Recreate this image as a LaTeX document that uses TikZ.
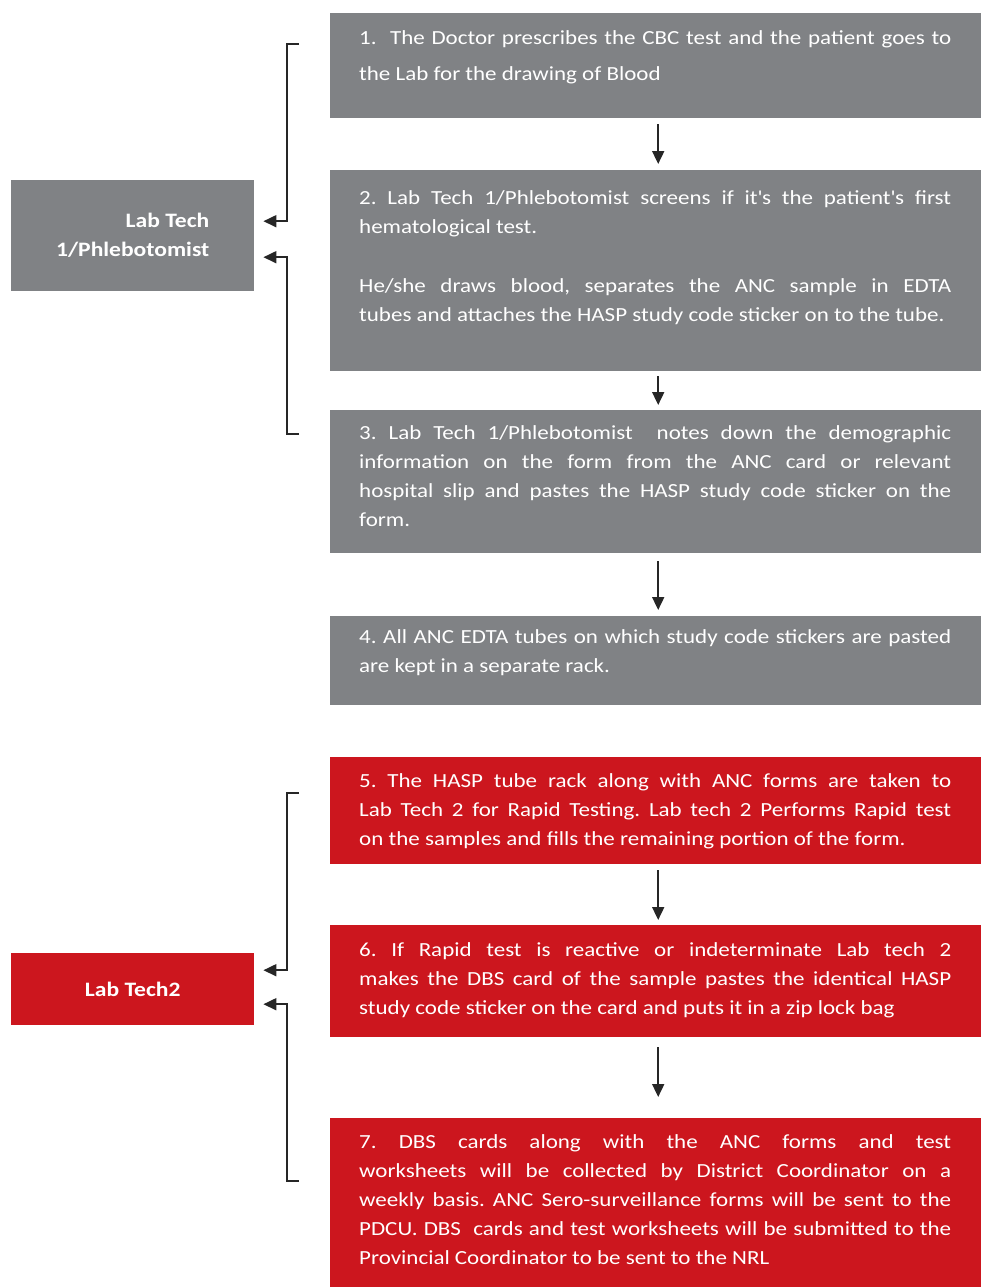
\documentclass[tikz,border=0pt]{standalone}
\usepackage{fontspec}
\setmainfont[FakeStretch=1.15]{Carlito}
\usetikzlibrary{positioning}
\usetikzlibrary{calc}
\usetikzlibrary{arrows.meta}

\definecolor{labgray}{RGB}{128,130,133}
\definecolor{labred}{RGB}{204,22,30}
\hyphenpenalty=10000
\exhyphenpenalty=10000
\frenchspacing

\begin{document}
\begin{tikzpicture}[x=1pt,y=-1pt,
      stepbox/.style={rectangle,inner sep=0pt,minimum width=651pt,anchor=north west},
      steptext/.style={inner sep=0pt,text width=592pt,align=justify,text=white,font=\fontsize{20}{29}\selectfont},
      rolebox/.style={rectangle,inner sep=0pt,minimum width=243pt,anchor=north west,text=white,font=\bfseries\fontsize{20.5}{29}\selectfont},
      flow/.style={-{Triangle[length=13pt,width=12pt]},line width=1.8pt,black!85}]
    \useasboundingbox (0,0) rectangle (981,1287);

    % Step boxes
    \node[stepbox,fill=labgray,minimum height=105pt] (step1) at (330,13)   {};
    \node[stepbox,fill=labgray,minimum height=201pt] (step2) at (330,170)  {};
    \node[stepbox,fill=labgray,minimum height=143pt] (step3) at (330,410)  {};
    \node[stepbox,fill=labgray,minimum height=89pt]  (step4) at (330,616)  {};
    \node[stepbox,fill=labred, minimum height=107pt] (step5) at (330,757)  {};
    \node[stepbox,fill=labred, minimum height=112pt] (step6) at (330,925)  {};
    \node[stepbox,fill=labred, minimum height=169pt] (step7) at (330,1118) {};

    % Step texts
    \node[steptext,font=\fontsize{20}{36}\selectfont,below right=17pt and 29pt of step1.north west] (text1)
      {1.\ \ The Doctor prescribes the CBC test and the patient goes to\linebreak the Lab for the drawing of Blood};
    \node[steptext,below right=20pt and 29pt of step2.north west] (text2)
      {2. Lab Tech 1/Phlebotomist screens if it\textquotesingle s the patient\textquotesingle s first\linebreak hematological test.\\[30pt]
       He/she draws blood, separates the ANC sample in EDTA\linebreak tubes and attaches the HASP study code sticker on to the tube.};
    \node[steptext,below right=15pt and 29pt of step3.north west] (text3)
      {3. Lab Tech 1/Phlebotomist\ \ notes down the demographic\linebreak information on the form from the ANC card or relevant\linebreak
       hospital slip and pastes the HASP study code sticker on the\linebreak form.};
    \node[steptext,below right=13pt and 29pt of step4.north west] (text4)
      {4. All ANC EDTA tubes on which study code stickers are pasted\linebreak are kept in a separate rack.};
    \node[steptext,below right=16pt and 29pt of step5.north west] (text5)
      {5. The HASP tube rack along with ANC forms are taken to\linebreak Lab Tech 2 for Rapid Testing. Lab tech 2 Performs Rapid test\linebreak
       on the samples and fills the remaining portion of the form.};
    \node[steptext,below right=17pt and 29pt of step6.north west] (text6)
      {6. If Rapid test is reactive or indeterminate Lab tech 2\linebreak makes the DBS card of the sample pastes the identical HASP\linebreak
       study code sticker on the card and puts it in a zip lock bag};
    \node[steptext,below right=16pt and 29pt of step7.north west] (text7)
      {7. DBS cards along with the ANC forms and test\linebreak worksheets will be collected by District Coordinator on a\linebreak
       weekly basis. ANC Sero-surveillance forms will be sent to the\linebreak PDCU. DBS\ \ cards and test worksheets will be submitted to the\linebreak
       Provincial Coordinator to be sent to the NRL};

    % Roles
    \node[rolebox,fill=labgray,minimum height=111pt,align=right] (lab1) at (11,180) {Lab Tech\\1/Phlebotomist};
    \node[rolebox,fill=labred,minimum height=72pt]               (lab2) at (11,953) {Lab Tech2};

    % Flow arrows
    \draw[flow,shorten <=6pt,shorten >=6pt]  ([xshift=2.5pt]step1.south) -- ([xshift=2.5pt]step2.north);
    \draw[flow,shorten <=5pt,shorten >=5pt]  ([xshift=2.5pt]step2.south) -- ([xshift=2.5pt]step3.north);
    \draw[flow,shorten <=8pt,shorten >=6pt]  ([xshift=2.5pt]step3.south) -- ([xshift=2.5pt]step4.north);
    \draw[flow,shorten <=6pt,shorten >=5pt]  ([xshift=2.5pt]step5.south) -- ([xshift=2.5pt]step6.north);
    \draw[flow,shorten <=10pt,shorten >=21pt] ([xshift=2.5pt]step6.south) -- ([xshift=2.5pt]step7.north);

    % Brackets
    \coordinate (b1top) at ($(step1.north west)+(-31,31)$);
    \coordinate (b1bot) at ($(step3.north west)+(-31,24)$);
    \coordinate (b2top) at ($(step5.north west)+(-31,36)$);
    \coordinate (b2bot) at ($(step7.north west)+(-31,63)$);
    \draw[flow] (b1top) -- ++(-12,0) |- ($(lab1.east)+(9,-14.5)$);
    \draw[flow] (b1bot) -- ++(-12,0) |- ($(lab1.east)+(9,21.5)$);
    \draw[flow] (b2top) -- ++(-12,0) |- ($(lab2.east)+(9,-19)$);
    \draw[flow] (b2bot) -- ++(-12,0) |- ($(lab2.east)+(9,15)$);

  \end{tikzpicture}
\end{document}
